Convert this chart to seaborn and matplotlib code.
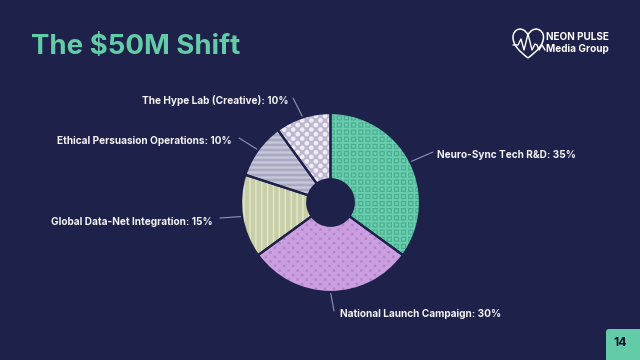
import numpy as np
import matplotlib
matplotlib.use("Agg")
import matplotlib.pyplot as plt
import matplotlib.hatch as mhatch
from matplotlib.patches import FancyBboxPatch, PathPatch
from matplotlib.path import Path
import seaborn as sns

categories = ["Neuro-Sync Tech R&D", "National Launch Campaign", "Global Data-Net Integration",
              "Ethical Persuasion Operations", "The Hype Lab (Creative)"]
shares = [35, 30, 15, 10, 10]
face_colors = ["#6bceb0", "#cb9fdf", "#c8cfa8", "#a9a9c3", "#bdb7cf"]
hatch_colors = ["#49b08f", "#b283ce", "#e4e8cd", "#c8c8da", "#f1edf6"]
hatches = ["x", ".", "|", "-", "O"]
title_text = "The $50M Shift"
page_number = "14"

BG = "#1e2149"
ACCENT = "#64cba9"


# Fill patterns (one hatch tile is 100 px at this dpi)
def square(cx, cy, w, h, rev=False):
    v = [(cx - w, cy - h), (cx + w, cy - h), (cx + w, cy + h), (cx - w, cy + h), (cx - w, cy - h)]
    if rev:
        v = v[::-1]
    return np.array(v), np.array([Path.MOVETO, Path.LINETO, Path.LINETO, Path.LINETO, Path.CLOSEPOLY])


def disc(cx, cy, rad):
    c = Path.unit_circle()
    return c.vertices * rad + (cx, cy), c.codes


def tile_shapes(ch):
    out = []
    if ch == "x":
        n = 14
        for i in range(n):
            for j in range(n):
                x, y = (i + .5) / n, (j + .5) / n
                out += [square(x, y, .026, .026), square(x, y, .014, .014, True)]
    elif ch == ".":
        n = 22
        for j in range(n):
            for i in range(n // 2):
                x = (i + (.25 if j % 2 else .75)) / (n / 2)
                out.append(square(x, (j + .5) / n, .012, .012))
    elif ch == "|":
        n = 17
        out = [square((i + .5) / n, .5, .0065, .5) for i in range(n)]
    elif ch == "-":
        n = 20
        out = [square(.5, (i + .5) / n, .5, .0115) for i in range(n)]
    elif ch == "O":
        n = 22
        for j in range(n):
            for i in range(n // 2):
                x = (i + (.25 if j % 2 else .75)) / (n / 2)
                out.append(disc(x, (j + .5) / n, .023))
    return out


class TileHatch(mhatch.HatchPatternBase):
    def __init__(self, hatch, density):
        self.shapes = [s for ch in set(hatch) for s in tile_shapes(ch)]
        self.num_vertices = sum(len(s[0]) for s in self.shapes)

    def set_vertices_and_codes(self, vertices, codes):
        k = 0
        for v, c in self.shapes:
            vertices[k:k + len(v)] = v
            codes[k:k + len(v)] = c
            k += len(v)


mhatch._hatch_types[:] = [TileHatch]

sns.set_theme(style="dark", rc={"figure.facecolor": BG, "axes.facecolor": BG,
                                "hatch.linewidth": 0.05, "savefig.facecolor": BG})
plt.rcParams["font.family"] = ["Inter", "DejaVu Sans"]

fig = plt.figure(figsize=(6.4, 3.6), dpi=100)
ax = fig.add_axes([0, 0, 1, 1])
ax.set_xlim(0, 640)
ax.set_ylim(360, 0)
ax.set_axis_off()

cx, cy, R, r = 330.5, 202.5, 89.5, 23.3
ax2 = fig.add_axes([(cx - R) / 640, 1 - (cy + R) / 360, 2 * R / 640, 2 * R / 360])
ax2.set_axis_off()
ax2.patch.set_alpha(0)

wedges, _ = ax2.pie(shares, startangle=90, counterclock=False, radius=1,
                    wedgeprops=dict(width=1 - r / R, linewidth=0))
for w, fc, hc, h in zip(wedges, face_colors, hatch_colors, hatches):
    w.set_facecolor(fc)
    w.set_edgecolor(hc)
    w.set_hatch(h)
outline, _ = ax2.pie(shares, startangle=90, counterclock=False, radius=1,
                     wedgeprops=dict(width=1 - r / R, fill=False, edgecolor=BG, linewidth=1.6))
ax2.set_xlim(-1, 1)
ax2.set_ylim(-1, 1)

# leader lines and labels
label_anchor = [(437, 155, "left"), (340, 314, "left"), (213, 222, "right"),
                (232, 141, "right"), (288, 101, "right")]
leader_ends = [(433, 152), (334, 311), (220, 218), (239, 138), (293, 98)]
cum = np.cumsum([0] + shares)
for i, (cat, s) in enumerate(zip(categories, shares)):
    a = np.deg2rad((cum[i] + s / 2) / sum(shares) * 360)
    x0, y0 = cx + R * np.sin(a), cy - R * np.cos(a)
    x1, y1 = leader_ends[i]
    ax.plot([x0, x1], [y0, y1], color="#8f94b8", lw=0.8, solid_capstyle="round")
    lx, ly, ha = label_anchor[i]
    ax.text(lx, ly, f"{cat}: {s}%", ha=ha, va="center", color="#f4f4f6",
            fontsize=7.25, fontweight="bold")

ax.text(31, 47, title_text, color=ACCENT, fontsize=19.9, fontweight="bold", va="center", ha="left")

# logo
heart = Path([(528, 58), (519, 51), (513, 45), (513, 37), (513, 29), (523, 25), (528, 35),
              (533, 25), (543.5, 29), (543.5, 37), (543.5, 45), (537, 51), (528, 58)],
             [Path.MOVETO] + [Path.CURVE4] * 12)
ax.add_patch(PathPatch(heart, fc="none", ec="white", lw=1.1))
pulse = np.array([(513, 45), (518, 45), (521, 39), (524, 50), (528, 34), (532, 50),
                  (535, 44), (537, 45), (539, 50), (542, 45), (545, 50)])
ax.plot(pulse[:, 0], pulse[:, 1], color="white", lw=1.0)
ax.text(545.5, 37.5, "NEON PULSE", color="white", fontsize=7.2, fontweight="bold", va="center", ha="left")
ax.text(545.5, 48.5, "Media Group", color="white", fontsize=7.2, fontweight="bold", va="center", ha="left")

# page badge
ax.add_patch(FancyBboxPatch((606, 329), 60, 60, boxstyle="round,pad=0,rounding_size=3",
                            fc=ACCENT, ec="none", clip_on=True))
ax.text(620.5, 343, page_number, color="#111330", fontsize=8.8, fontweight="bold", ha="center", va="center")

fig.savefig("out.png", dpi=100)
